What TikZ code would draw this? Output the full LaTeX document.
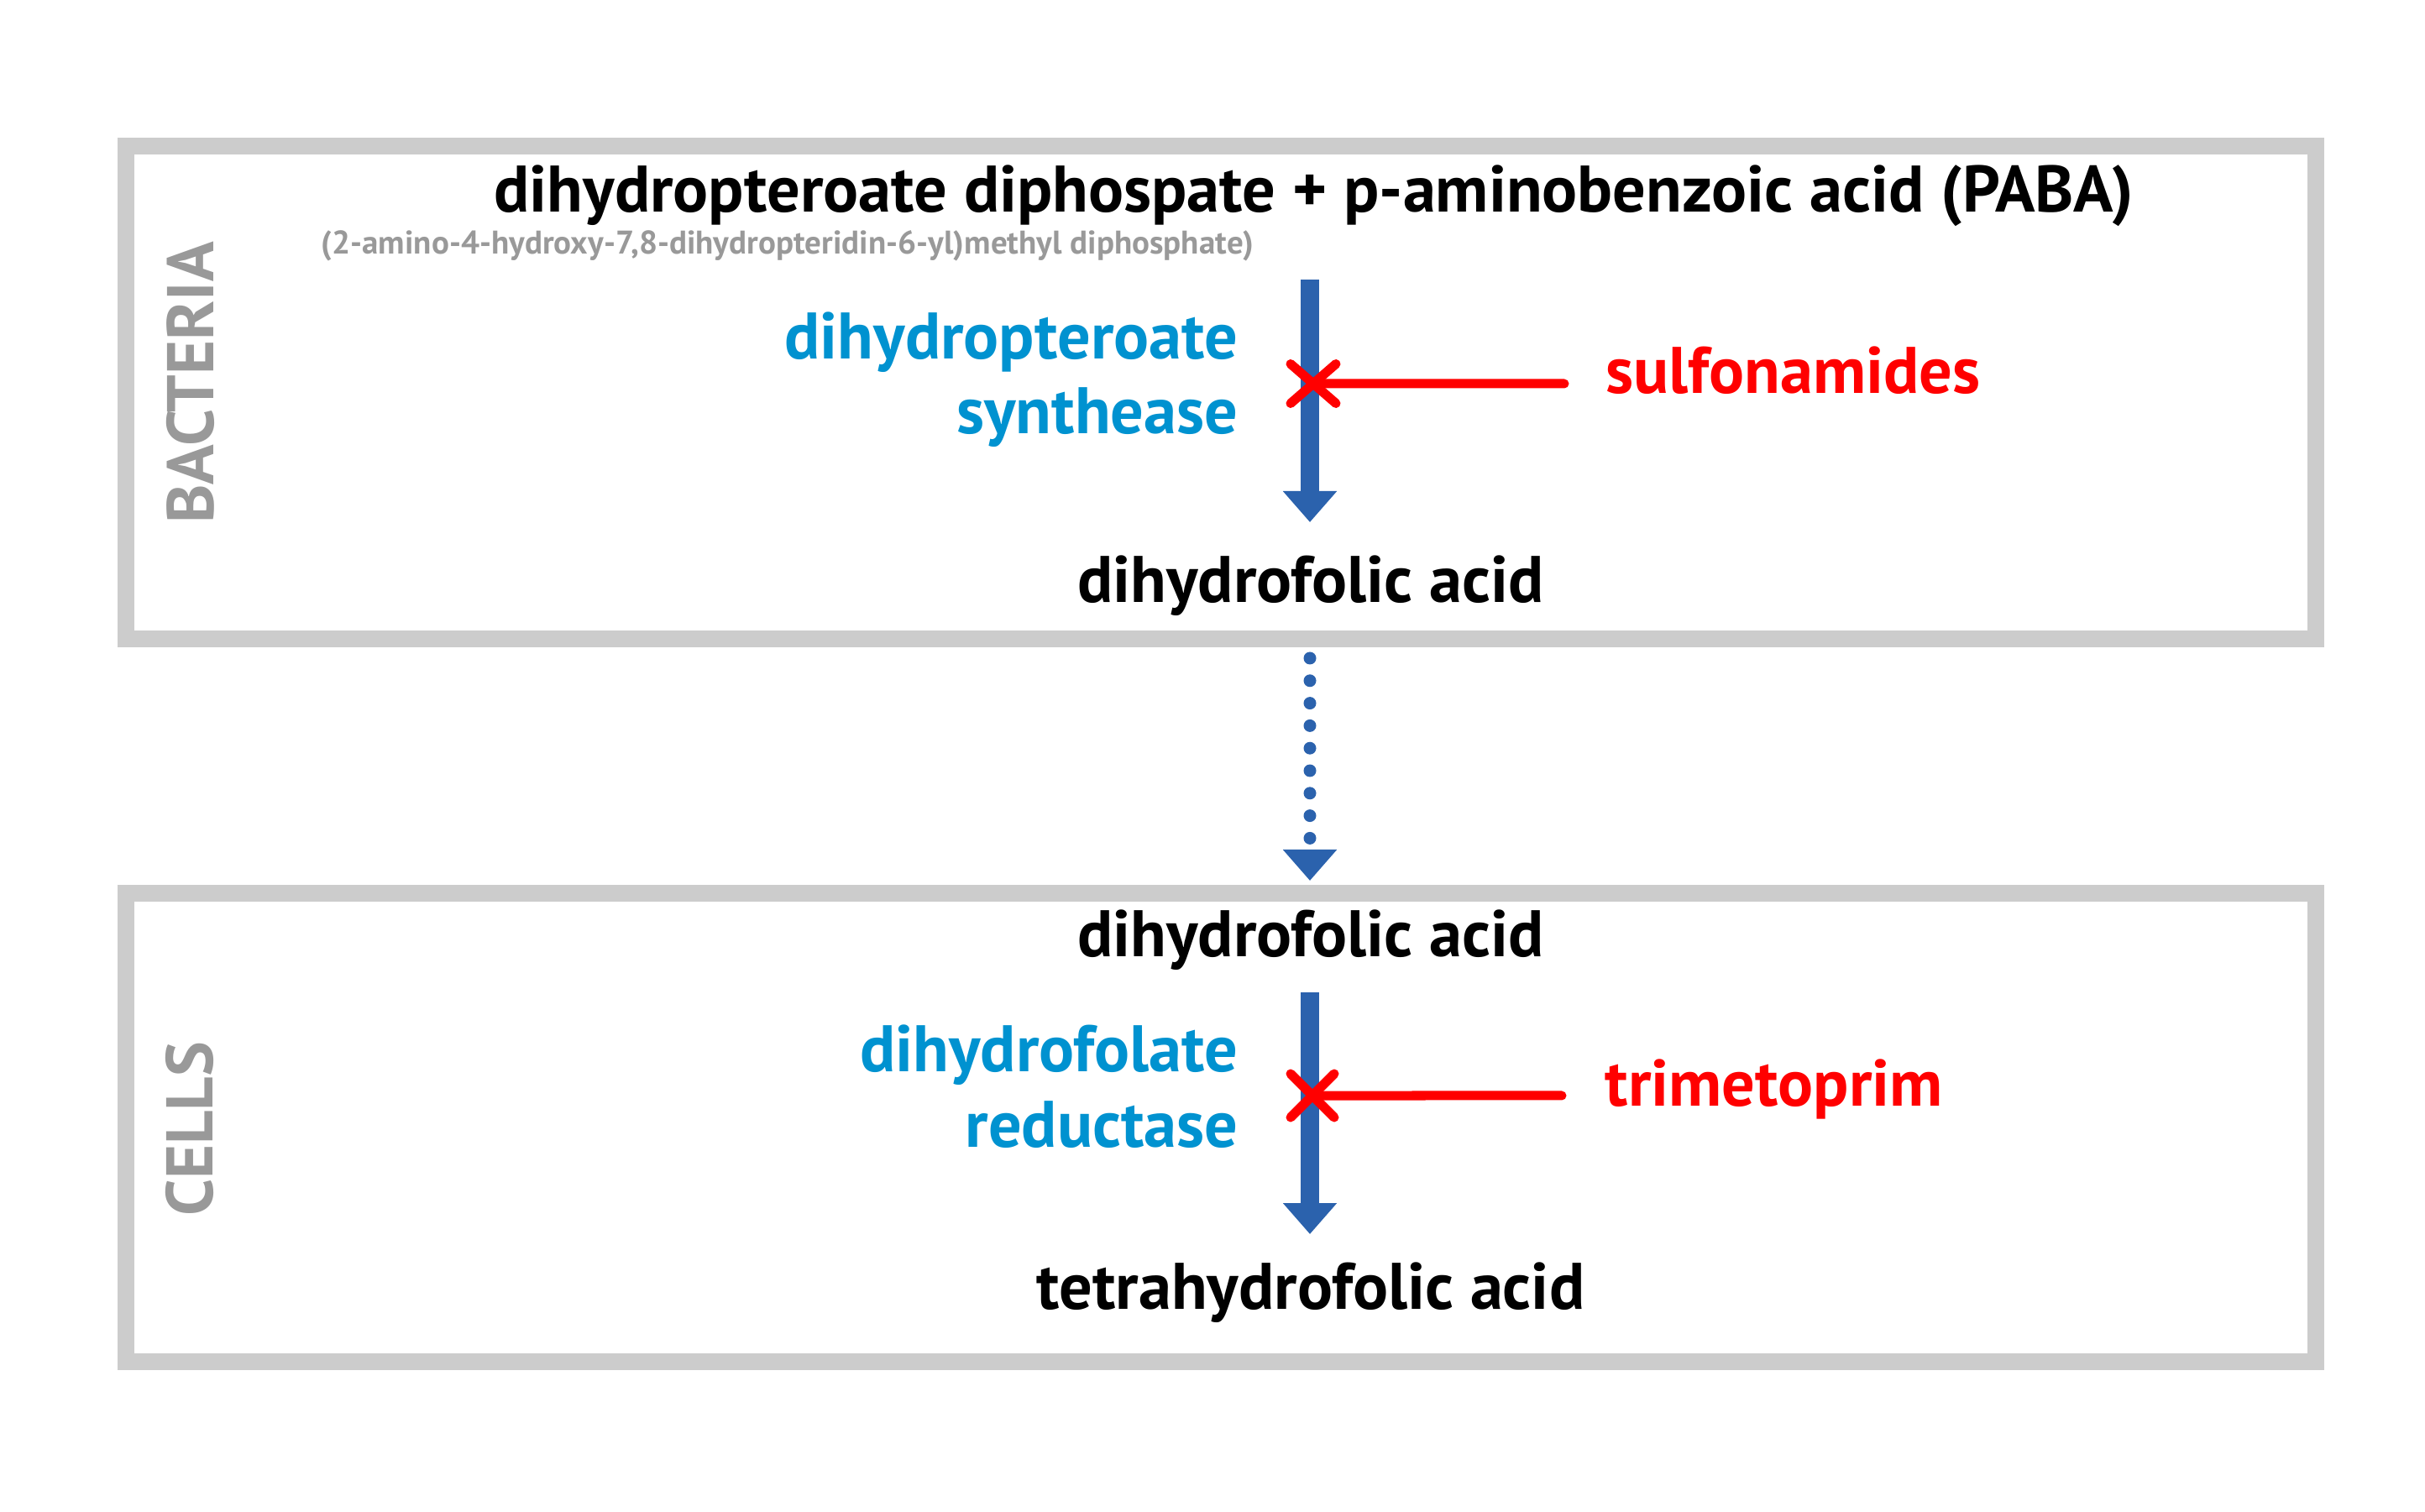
\documentclass[tikz,border=0pt]{standalone}
\usepackage{fontspec}
\setmainfont{PT Sans}
\usetikzlibrary{arrows.meta,calc}
\definecolor{boxgray}{HTML}{CCCCCC}
\definecolor{labelgray}{HTML}{999999}
\definecolor{enzblue}{HTML}{0092D0}
\definecolor{flowblue}{HTML}{2B62AD}
\definecolor{inhred}{HTML}{FF0000}
\tikzset{
	compartment/.style={draw=boxgray,line width=0.2cm},
	side/.style={text=labelgray,font=\fontsize{22.4}{26}\selectfont\bfseries,rotate=90,inner sep=0pt},
	compound/.style={font=\fontsize{22.3}{26}\selectfont\bfseries,anchor=base,inner sep=0pt},
	enzyme/.style={compound,text=enzblue,anchor=base east},
	drug/.style={compound,text=inhred,anchor=base west},
	flow/.style={color=flowblue,line width=0.22cm,-{Triangle[width=0.62cm,length=0.37cm]}},
	inhib/.style={draw=inhred,line width=0.11cm,line cap=round}
}
\begin{document}
\begin{tikzpicture}
		\useasboundingbox (0,0) rectangle (28.88,18);
		
		\draw[compartment] (1.495,16.26) rectangle (27.58,10.39);
		\draw[compartment] (1.495,7.36) rectangle (27.58,1.78);
		\node[side] (bact) at (2.27,13.44) {BACTERIA};
		\node[side] (cells) at (2.26,4.55) {CELLS};
		
		% bacteria
		\node[compound] (substr) at (15.65,15.47) {dihydropteroate diphospate + p-aminobenzoic acid (PABA)};
		\node[compound,anchor=base west,text=labelgray,font=\fontsize{11.1}{13}\selectfont\bfseries] (iupac) at (3.82,14.97) {(2-amino-4-hydroxy-7,8-dihydropteridin-6-yl)methyl diphosphate)};
		\node[enzyme] (dhps) at (14.75,13.72) {dihydropteroate};
		\node[enzyme] (dhpsb) at (14.75,12.83) {synthease};
		\node[compound] (dhfa) at (15.61,10.82) {dihydrofolic acid};
		\node[drug] (sulfa) at (19.12,13.31) {sulfonamides};
		
		\coordinate (s1) at (15.6,14.67);
		\coordinate (e1) at (15.6,11.78);
		\draw[flow] (s1) -- (e1);
		\coordinate (x1) at (15.64,13.43);
		\draw[inhib] ([shift={(-0.49,0.12)}]sulfa.base west) -- (x1);
		\draw[inhib] ($(x1)+(-0.27,0.235)$) -- ($(x1)+(0.27,-0.235)$);
		\draw[inhib] ($(x1)+(0.27,0.235)$) -- ($(x1)+(-0.27,-0.235)$);
		
		% transfer
		\coordinate (s2) at (15.6,10.16);
		\coordinate (e2) at (15.6,7.51);
		\draw[flow,line width=0.15cm,line cap=round,dash pattern=on 0pt off 0.268cm] (s2) -- (e2);
		
		% cells
		\node[compound] (dhfb) at (15.61,6.6) {dihydrofolic acid};
		\node[enzyme] (dhfr) at (14.75,5.24) {dihydrofolate};
		\node[enzyme] (dhfrb) at (14.75,4.34) {reductase};
		\node[compound] (thfa) at (15.61,2.41) {tetrahydrofolic acid};
		\node[drug] (tmp) at (19.11,4.82) {trimetoprim};
		
		\coordinate (s3) at (15.6,6.18);
		\coordinate (e3) at (15.6,3.30);
		\draw[flow] (s3) -- (e3);
		\coordinate (x2) at (15.63,4.95);
		\draw[inhib] ([shift={(-0.51,0.13)}]tmp.base west) -- (x2);
		\draw[inhib] ($(x2)+(-0.26,0.26)$) -- ($(x2)+(0.26,-0.26)$);
		\draw[inhib] ($(x2)+(0.26,0.26)$) -- ($(x2)+(-0.26,-0.26)$);
	\end{tikzpicture}
\end{document}
